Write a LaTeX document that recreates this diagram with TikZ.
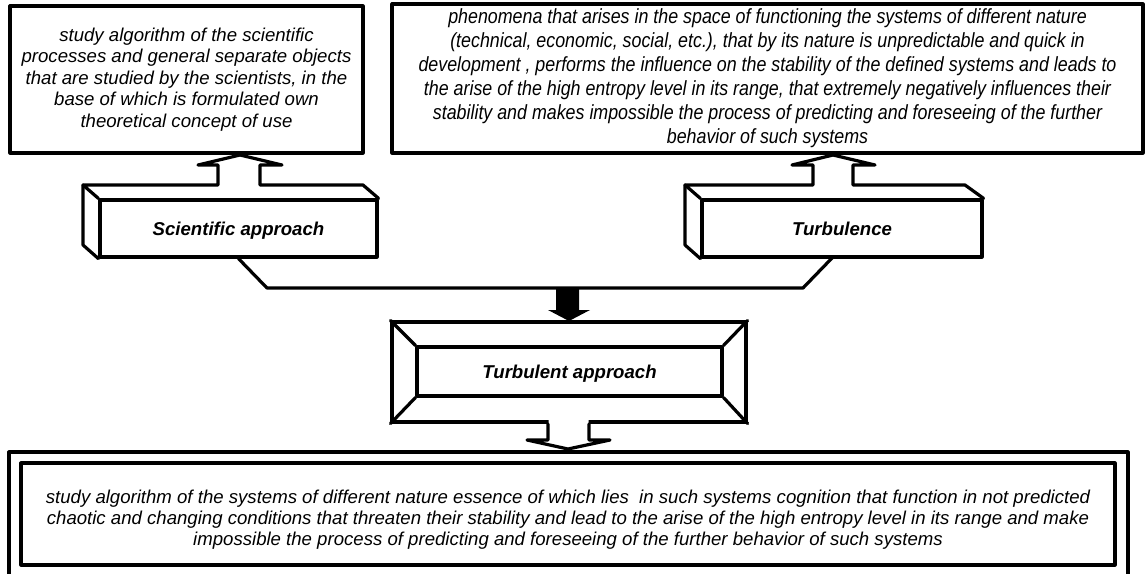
\documentclass[tikz,border=0pt]{standalone}
\usepackage{fontspec}
\setmainfont{Liberation Sans}
\newfontfamily\narrowfont[FakeStretch=0.87]{Liberation Sans}
\begin{document}
\begin{tikzpicture}[x=1pt,y=-1pt, line width=3.2pt, line join=round, line cap=round,
  box/.style={draw, line width=3.2pt, inner sep=0pt, align=center},
  txt/.style={font=\fontsize{18.6}{21.5}\selectfont\itshape},
  txtb/.style={font=\narrowfont\fontsize{20.5}{24}\selectfont\itshape},
  txtc/.style={font=\fontsize{18.6}{21}\selectfont\itshape},
  lbl/.style={font=\fontsize{18.6}{22}\selectfont\bfseries\itshape, text height=13.3pt, text depth=0pt}]
\useasboundingbox (0,0) rectangle (1145,573);
\clip (0,0) rectangle (1145,573);
% top boxes
\node[box, txt, minimum width=353pt, minimum height=147pt] (boxA) at (186.5,79.5)
 {study algorithm of the scientific\\processes and general separate objects\\that are studied by the scientists, in the\\base of which is formulated own\\theoretical concept of use};
\node[box, txtb, minimum width=751pt, minimum height=149pt] (boxB) at (767.5,78.5)
 {phenomena that arises in the space of functioning the systems of different nature\\(technical, economic, social, etc.), that by its nature is unpredictable and quick in\\development , performs the influence on the stability of the defined systems and leads to\\the arise of the high entropy level in its range, that extremely negatively influences their\\stability and makes impossible the process of predicting and foreseeing of the further\\behavior of such systems};
% 3D boxes
\node[box, lbl, minimum width=277pt, minimum height=57pt] (sci) at (238.5,228.5) {Scientific approach};
\draw (sci.north west) -- (83,185) -- (218,185) -- (218,165) -- (198,165) -- (240,155) -- (282,165) -- (260,165) -- (260,185) -- (363,185) -- (sci.north east);
\draw (83,185) -- (83,245) -- (sci.south west);
\node[box, lbl, minimum width=280pt, minimum height=57pt] (turb) at (842,228.5) {Turbulence};
\draw (turb.north west) -- (685,185) -- (813,185) -- (813,165) -- (792,165) -- (833,155) -- (875,165) -- (853,165) -- (853,185) -- (965,185) -- (turb.north east);
\draw (685,185) -- (685,245) -- (turb.south west);
% bracket connector
\draw (sci.south) -- (267,288) -- (803,288) -- (833,257);
\fill (556,288) -- (556,310) -- (548,310) -- (569,321) -- (590,310) -- (579,310) -- (579,288) -- cycle;
% turbulent approach
\node[box, minimum width=354pt, minimum height=100pt] (appr) at (569,372) {};
\node[box, lbl, minimum width=305pt, minimum height=49pt] (apprin) at (569.5,371.5) {Turbulent approach};
\draw (appr.north west) -- (apprin.north west);
\draw (appr.north east) -- (apprin.north east);
\draw (appr.south west) -- (apprin.south west);
\draw (appr.south east) -- (apprin.south east);
% bottom box
\node[box, minimum width=1119pt, minimum height=138pt] (res) at (568.5,521) {};
\node[box, txtc, minimum width=1094pt, minimum height=102pt] (resin) at (568,514)
 {\rule{0pt}{25pt}study algorithm of the systems of different nature essence of which lies\ \ in such systems cognition that function in not predicted\\chaotic and changing conditions that threaten their stability and lead to the arise of the high entropy level in its range and make\\impossible the process of predicting and foreseeing of the further behavior of such systems};
% arrow down
\fill[white] (548.5,420) -- (548.5,440) -- (527,440) -- (568,449) -- (610,440) -- (588.5,440) -- (588.5,420) -- cycle;
\draw (548,424) -- (548,440) -- (527,440) -- (568,449) -- (610,440) -- (589,440) -- (589,424);
\end{tikzpicture}
\end{document}
